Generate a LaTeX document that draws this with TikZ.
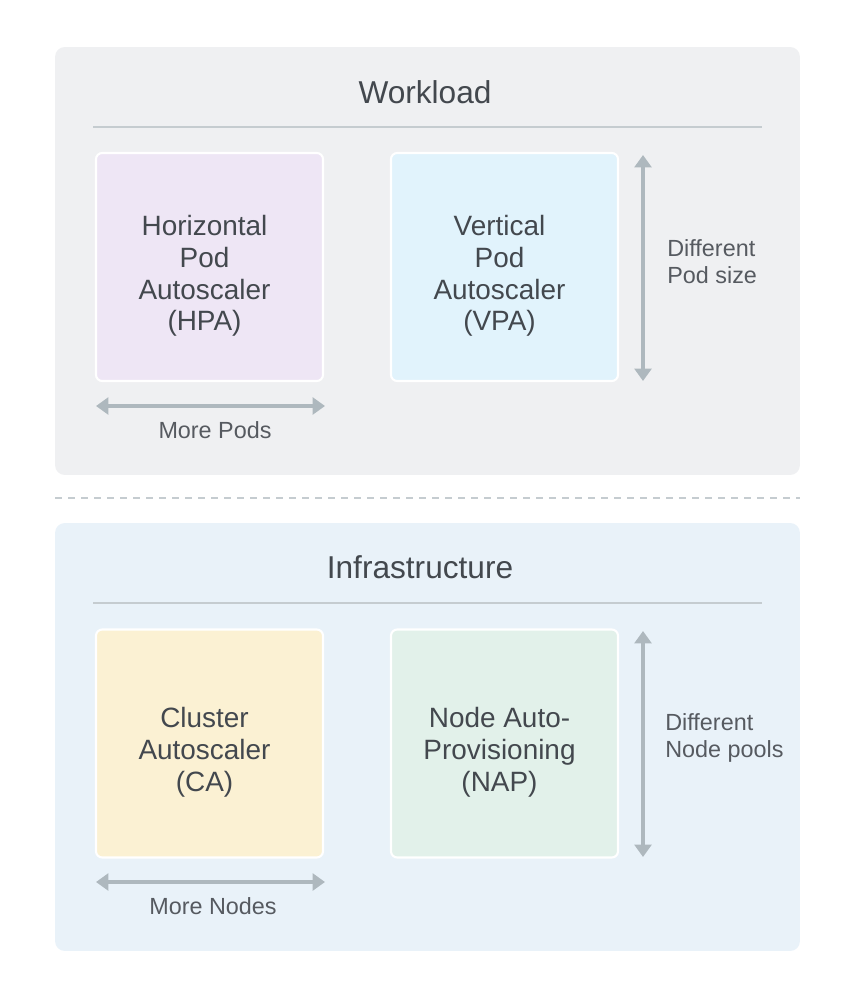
\documentclass[tikz,border=0pt]{standalone}
\usepackage{fontspec}
\setmainfont{Liberation Sans}
\definecolor{panegrey}{HTML}{EFF0F2}
\definecolor{paneblue}{HTML}{E9F2F9}
\definecolor{hpafill}{HTML}{EEE6F5}
\definecolor{vpafill}{HTML}{E1F3FC}
\definecolor{cafill}{HTML}{FBF1D3}
\definecolor{napfill}{HTML}{E2F1EA}
\definecolor{inkgrey}{HTML}{43484E}
\definecolor{rulegrey}{HTML}{C5CCD0}
\definecolor{dimgrey}{HTML}{AEB8BE}
\usetikzlibrary{arrows.meta,positioning}

\begin{document}
\begin{tikzpicture}[x=0.02cm,y=-0.02cm,
          pane/.style={rounded corners=5.5pt,minimum width=14.9cm,
                       minimum height=8.56cm,inner sep=0pt},
          scaler/.style={draw=white,line width=1.2pt,rounded corners=3.5pt,
                         minimum width=4.54cm,minimum height=4.56cm,inner sep=0pt},
          scalertext/.style={align=center,text=inkgrey,inner sep=0pt,
                             xshift=-0.1cm,yshift=-0.18cm,
                             font=\fontsize{15.9}{18.1}\selectfont},
          heading/.style={text=inkgrey,font=\fontsize{18}{21}\selectfont},
          note/.style={text=inkgrey!90,font=\fontsize{13.3}{15.3}\selectfont,
                       align=left,inner sep=0pt},
          rule/.style={rulegrey,line width=1.2pt},
          dim/.style={{Triangle[width=9.5pt,length=7pt]}-{Triangle[width=9.5pt,length=7pt]},
                      dimgrey,line width=1.9pt}
        ]
        \useasboundingbox (0,0) rectangle (855,1000);
        % workload
        \node[pane,fill=panegrey] (work) at (427.5,261) {};
        \node[heading] (worktitle) at (425,92) {Workload};
        \coordinate (wr1) at (93,127);  \coordinate (wr2) at (762,127);
        \draw[rule] (wr1) -- (wr2);
        \node[scaler,fill=hpafill] (hpa) at (209.5,267) {};
        \node[scalertext] (hpatext) at (hpa) {Horizontal\\Pod\\Autoscaler\\(HPA)};
        \node[scaler,fill=vpafill] (vpa) at (504.5,267) {};
        \node[scalertext] (vpatext) at (vpa) {Vertical\\Pod\\Autoscaler\\(VPA)};
        \coordinate (vt1) at (643,155); \coordinate (vt2) at (643,381);
        \draw[dim] (vt1) -- (vt2);
        \node[note,anchor=west] (podsize) at (667,262) {Different\\Pod size};
        \coordinate (ht1) at (96,406);  \coordinate (ht2) at (325,406);
        \draw[dim] (ht1) -- (ht2);
        \node[note,align=center] (morepods) at (215,430) {More Pods};
        % divider
        \coordinate (dv1) at (55,498);  \coordinate (dv2) at (800,498);
        \draw[rulegrey,line width=1.1pt,dash pattern=on 4.2pt off 3.2pt] (dv1) -- (dv2);
        % infrastructure
        \node[pane,fill=paneblue] (infra) at (427.5,737) {};
        \node[heading] (infratitle) at (420,567) {Infrastructure};
        \coordinate (ir1) at (93,603);  \coordinate (ir2) at (762,603);
        \draw[rule] (ir1) -- (ir2);
        \node[scaler,fill=cafill] (ca) at (209.5,743.5) {};
        \node[scalertext] (catext) at (ca) {Cluster\\Autoscaler\\(CA)};
        \node[scaler,fill=napfill] (nap) at (504.5,743.5) {};
        \node[scalertext] (naptext) at (nap) {Node Auto-\\Provisioning\\(NAP)};
        \coordinate (vb1) at (643,631); \coordinate (vb2) at (643,857);
        \draw[dim] (vb1) -- (vb2);
        \node[note,anchor=west] (nodepools) at (665,738) {Different\\Node pools};
        \coordinate (hb1) at (96,882);  \coordinate (hb2) at (325,882);
        \draw[dim] (hb1) -- (hb2);
        \node[note,align=center] (morenodes) at (213,906) {More Nodes};
      \end{tikzpicture}
\end{document}
